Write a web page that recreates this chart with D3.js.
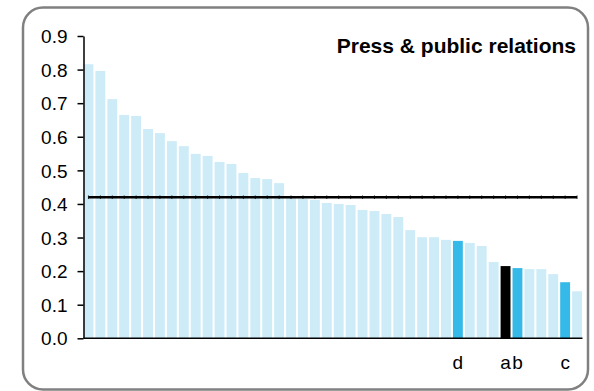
<!DOCTYPE html>
<html>
<head>
<meta charset="utf-8">
<script src="https://d3js.org/d3.v7.min.js"></script>
<style>
body, html {
    margin: 0;
    padding: 0;
    background: #fff;
    font-family: "Liberation Sans", Arial, sans-serif;
}
.frame {
  fill: none;
  stroke: #808080;
  stroke-width: 2.5;
}
.axis path, .axis line {
  stroke: #000;
  stroke-width: 1.5;
}
.axis text {
  font-family: "Liberation Sans", Arial, sans-serif;
  font-size: 19px;
  fill: #000;
}
</style>
</head>
<body>
<div id="chart"></div>
<script>

var width = 594,
    height = 391;

// values, sorted high to low
var values = [0.816, 0.796, 0.712, 0.665, 0.662, 0.623, 0.611, 0.587, 0.572, 0.549,
              0.543, 0.525, 0.519, 0.492, 0.477, 0.474, 0.462, 0.417, 0.415, 0.412,
              0.403, 0.400, 0.397, 0.382, 0.379, 0.370, 0.361, 0.322, 0.301, 0.301,
              0.293, 0.290, 0.284, 0.275, 0.227, 0.215, 0.209, 0.206, 0.206, 0.191,
              0.167, 0.140];
// label under some bars
var barLabels = {31: "d", 35: "a", 36: "b", 40: "c"};
// 0 = normal, 1 = highlighted, 2 = black
var barKind = {31: 1, 35: 2, 36: 1, 40: 1};
var average = 0.42;
var yTicks = [0, 0.1, 0.2, 0.3, 0.4, 0.5, 0.6, 0.7, 0.8, 0.9];
var title = "Press & public relations";

var colors = ["#cdecf8", "#35b9e8", "#000000"];

var margin = {left: 83.5, right: 12, top: 36, bottom: 52.7};

var svg = d3.select("#chart").append("svg")
  .attr("width", width)
  .attr("height", height);

svg.append("rect")
  .attr("class", "frame")
  .attr("x", 23)
  .attr("y", 7.5)
  .attr("width", 565)
  .attr("height", 382)
  .attr("rx", 20)
  .attr("ry", 20);

var x = d3.scaleBand()
  .domain(d3.range(values.length))
  .range([margin.left, width - margin.right])
  .paddingInner(0.17)
  .paddingOuter(0);

var y = d3.scaleLinear()
  .domain([0, 0.9])
  .range([height - margin.bottom, margin.top]);

// bars
svg.append("g").selectAll("rect")
  .data(values)
  .enter().append("rect")
  .attr("x", function(d, i) { return x(i); })
  .attr("y", function(d) { return y(d); })
  .attr("width", x.bandwidth())
  .attr("height", function(d) { return y(0) - y(d); })
  .attr("fill", function(d, i) { return colors[barKind[i] || 0]; });

// y axis
var yAxis = svg.append("g")
  .attr("class", "axis")
  .attr("transform", "translate(" + margin.left + ",0)")
  .call(d3.axisLeft(y).tickValues(yTicks).tickFormat(d3.format(".1f")).tickSize(6).tickSizeOuter(0).tickPadding(10));
yAxis.selectAll("text").attr("dy", "0.35em");

// x axis, no ticks, only a few labels
var xAxis = svg.append("g")
  .attr("class", "axis")
  .attr("transform", "translate(0," + y(0) + ")")
  .call(d3.axisBottom(x)
    .tickValues(Object.keys(barLabels).map(Number))
    .tickFormat(function(i) { return barLabels[i]; })
    .tickSize(0).tickSizeOuter(0).tickPadding(17));
xAxis.select(".domain").attr("d", "M" + margin.left + ",0H" + (width - margin.right + 0.5));

// average line with small markers at each bar
var first = x(0) + x.bandwidth() / 2,
    last = x(values.length - 1) + x.bandwidth() / 2;
svg.append("line")
  .attr("x1", first).attr("x2", last)
  .attr("y1", y(average)).attr("y2", y(average))
  .attr("stroke", "#000")
  .attr("stroke-width", 2.5);
svg.append("g").selectAll("line")
  .data(values)
  .enter().append("line")
  .attr("x1", function(d, i) { return x(i) + x.bandwidth() / 2; })
  .attr("x2", function(d, i) { return x(i) + x.bandwidth() / 2; })
  .attr("y1", y(average) - 1.8)
  .attr("y2", y(average) + 1.8)
  .attr("stroke", "#000")
  .attr("stroke-width", 0.8);

svg.append("text")
  .attr("x", 576)
  .attr("y", 53)
  .attr("text-anchor", "end")
  .style("font-family", "'Liberation Sans', Arial, sans-serif")
  .style("font-weight", "bold")
  .style("font-size", "21px")
  .text(title);

</script>
</body>
</html>
